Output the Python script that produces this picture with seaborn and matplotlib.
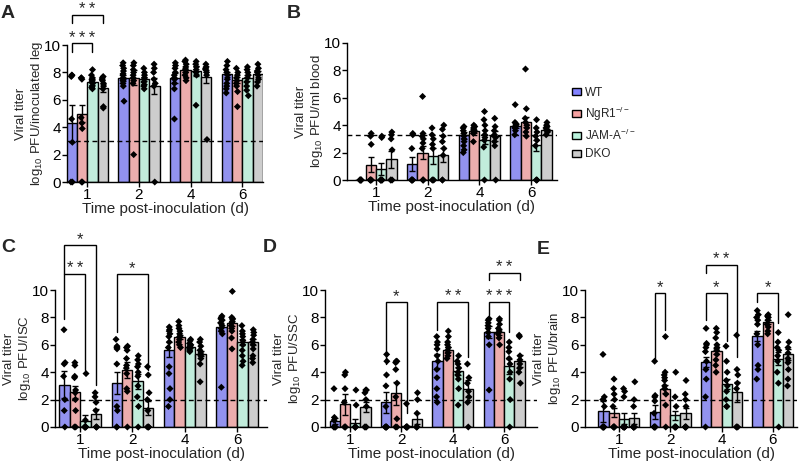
import numpy as np
import pandas as pd
import matplotlib
matplotlib.use("Agg")
import matplotlib.pyplot as plt
from matplotlib.patches import Patch
import seaborn as sns

# ── Data ──────────────────────────────────────────────────────────────────────
days = ["1", "2", "4", "6"]
genos = ["WT", "NgR1", "JAM-A", "DKO"]
geno_labels = ["WT", "NgR1$^{-/-}$", "JAM-A$^{-/-}$", "DKO"]
colors = ["#8282FF", "#F7A2A2", "#BAF3DD", "#CDCDCD"]

# rows = day, cols = genotype (WT, NgR1, JAM-A, DKO)
A_mean = [[4.3, 5.0, 7.3, 6.85], [7.6, 7.6, 7.5, 7.0], [7.6, 8.2, 8.1, 7.7], [7.85, 7.45, 7.6, 7.9]]
A_sem = [[1.35, 0.65, 0.2, 0.3], [0.2, 0.55, 0.15, 0.6], [0.35, 0.15, 0.35, 0.5], [0.2, 0.25, 0.2, 0.2]]
A_pts = [
    [7.8, 7.8, 7.7, 4.6, 2.9, 0, 0], [7.6, 7.6, 7.5, 4.7, 4.3, 3.9, 0, 0],
    [8.2, 7.8, 7.6, 7.5, 7.4, 7.3, 7.2, 7.0, 6.9, 6.8], [7.7, 7.6, 7.5, 7.4, 7.2, 7.0, 6.8, 5.5, 5.4],
    [8.7, 8.5, 8.3, 8.1, 7.9, 7.8, 7.6, 7.5, 7.4, 7.2, 7.0, 5.9], [8.7, 8.5, 8.2, 8.0, 7.8, 7.6, 7.4, 7.2, 2.0],
    [8.3, 8.0, 7.8, 7.6, 7.5, 7.3, 7.1, 7.0, 6.8], [8.6, 8.3, 8.0, 7.5, 7.2, 7.0, 0],
    [8.7, 8.5, 8.3, 8.0, 7.8, 7.6, 7.5, 7.2, 6.8, 4.6], [8.9, 8.8, 8.6, 8.4, 8.2, 8.0, 7.8, 7.6, 7.4],
    [8.8, 8.6, 8.4, 8.2, 8.0, 7.8, 5.6], [8.6, 8.4, 8.3, 8.2, 8.0, 7.8, 3.1],
    [8.8, 8.5, 8.2, 8.0, 7.8, 7.5, 7.2, 7.0, 6.8, 6.5], [8.3, 8.0, 7.8, 7.6, 7.4, 7.2, 7.0, 6.6, 5.5],
    [8.4, 8.2, 8.0, 7.8, 7.6, 7.3, 7.0, 6.7, 6.3], [8.6, 8.3, 8.1, 8.0, 7.8, 7.5, 7.3, 7.0],
]

B_mean = [[0, 1.1, 0.8, 1.5], [1.15, 2.0, 1.75, 1.85], [3.25, 3.55, 2.95, 3.2], [3.95, 4.25, 2.55, 3.65]]
B_sem = [[0, 0.55, 0.45, 0.6], [0.5, 0.5, 0.55, 0.5], [0.25, 0.1, 0.35, 0.35], [0.15, 0.35, 0.4, 0.1]]
B_pts = [
    [0, 0, 0, 0, 0, 0], [3.4, 3.2, 2.6, 0, 0, 0, 0, 0],
    [3.2, 3.1, 0, 0, 0, 0, 0, 0], [3.5, 3.3, 3.0, 2.2, 0, 0, 0],
    [3.4, 3.3, 2.3, 0, 0, 0, 0, 0], [6.1, 3.4, 3.2, 3.0, 2.7, 2.3, 0, 0, 0],
    [3.8, 3.3, 3.0, 2.6, 2.3, 0, 0, 0], [4.0, 3.7, 3.2, 2.8, 2.3, 1.8, 0, 0],
    [3.9, 3.8, 3.6, 3.4, 3.2, 3.0, 2.8, 2.5, 2.2, 2.0], [4.0, 3.9, 3.8, 3.7, 3.6, 3.5, 3.4, 2.8],
    [5.0, 4.4, 4.0, 3.6, 3.3, 3.1, 2.9, 2.4, 0], [4.5, 3.9, 3.6, 3.3, 3.1, 2.8, 2.5, 0],
    [5.5, 4.2, 4.1, 4.0, 3.9, 3.8, 3.6, 3.3], [8.1, 5.2, 4.5, 4.2, 4.0, 3.8, 3.5, 3.2],
    [4.4, 3.8, 3.5, 3.2, 2.9, 2.5, 0, 0, 0], [4.2, 4.0, 3.9, 3.8, 3.7, 3.6, 3.5, 3.3],
]

C_mean = [[3.1, 2.55, 0.45, 0.95], [3.2, 4.15, 3.35, 1.4], [5.65, 6.6, 5.85, 5.35], [7.3, 7.6, 6.2, 6.2]]
C_sem = [[1.0, 0.45, 0.4, 0.35], [0.8, 0.6, 0.55, 0.5], [0.55, 0.15, 0.1, 0.2], [0.3, 0.25, 0.25, 0.25]]
C_pts = [
    [7.1, 4.7, 4.6, 3.7, 2.0, 1.2, 0], [4.7, 4.5, 3.7, 3.6, 2.7, 2.5, 2.0, 1.2, 0, 0],
    [3.9, 0.5, 0, 0, 0, 0, 0], [2.5, 2.2, 1.8, 1.2, 0, 0, 0],
    [6.4, 5.9, 5.8, 5.7, 4.6, 1.5, 1.2, 0, 0], [5.9, 5.8, 5.6, 5.0, 4.5, 4.3, 3.9, 2.8, 2.6, 0],
    [5.2, 4.9, 4.6, 4.4, 4.0, 3.7, 3.0, 2.2, 1.5, 0], [4.4, 3.8, 2.5, 2.0, 1.2, 0, 0, 0],
    [7.3, 7.1, 7.0, 6.8, 6.6, 6.2, 5.8, 4.4, 3.9, 2.8, 2.0, 1.5], [7.7, 7.4, 7.2, 7.0, 6.8, 6.6, 6.4, 6.2, 6.0, 5.8],
    [6.4, 6.3, 6.1, 6.0, 5.9, 5.8, 5.7, 5.6, 5.5], [6.4, 6.2, 5.9, 5.6, 5.4, 5.2, 5.0, 4.6, 3.3],
    [8.1, 8.0, 7.9, 7.8, 7.6, 7.4, 7.2, 7.0, 6.8, 2.9], [9.9, 8.0, 7.9, 7.7, 7.6, 7.4, 7.2, 7.0, 6.5, 5.7],
    [7.4, 7.0, 6.8, 6.6, 6.3, 6.0, 5.6, 5.2, 4.8, 4.5], [7.1, 6.9, 6.7, 6.4, 6.2, 6.0, 5.7, 5.2, 5.0, 4.7],
]

D_mean = [[0.45, 1.65, 0.3, 1.45], [1.8, 2.45, 0.05, 0.6], [4.8, 5.65, 4.1, 2.8], [6.95, 6.95, 4.45, 4.8]]
D_sem = [[0.2, 0.75, 0.3, 0.35], [0.75, 0.85, 0.05, 0.4], [0.5, 0.2, 0.3, 0.6], [0.45, 0.2, 0.55, 0.45]]
D_pts = [
    [2.8, 0.7, 0.5, 0, 0, 0, 0], [4.0, 3.8, 2.8, 1.8, 0, 0, 0],
    [2.7, 1.6, 0, 0, 0, 0, 0], [2.7, 2.7, 2.5, 2.0, 1.5, 0, 0, 0],
    [5.3, 4.8, 3.8, 3.0, 1.5, 0, 0, 0, 0, 0], [4.8, 4.8, 4.7, 4.2, 3.2, 2.2, 0.6, 0, 0],
    [1.7, 0, 0, 0, 0, 0, 0], [2.5, 2.0, 1.0, 0, 0, 0],
    [6.6, 6.2, 6.0, 5.7, 5.2, 4.8, 4.2, 3.6, 2.8, 2.2, 1.8], [7.0, 6.6, 6.2, 6.0, 5.8, 5.6, 5.4, 5.2, 5.0],
    [5.2, 4.8, 4.6, 4.3, 4.0, 3.8, 3.5, 2.8, 1.6], [4.6, 3.6, 3.2, 2.6, 2.2, 1.8, 0],
    [7.9, 7.8, 7.6, 7.4, 7.2, 6.9, 6.6, 6.0, 2.7], [7.9, 7.8, 7.5, 7.2, 7.0, 6.8, 6.5, 6.0],
    [6.2, 5.8, 5.5, 5.0, 4.6, 4.0, 3.5, 2.0, 0], [6.7, 6.6, 5.2, 4.9, 4.6, 4.3, 4.0, 3.2],
]

E_mean = [[1.15, 1.05, 0.6, 0.65], [1.1, 2.8, 0.85, 1.0], [4.75, 5.55, 3.15, 2.55], [6.65, 7.65, 5.0, 5.3]]
E_sem = [[0.75, 0.35, 0.4, 0.4], [0.5, 0.3, 0.35, 0.4], [0.35, 0.25, 0.35, 0.75], [0.35, 0.15, 0.5, 0.4]]
E_pts = [
    [5.3, 2.2, 2.0, 1.5, 0, 0, 0, 0, 0, 0], [3.5, 2.8, 2.4, 2.0, 1.5, 0, 0, 0, 0, 0],
    [2.8, 2.6, 2.2, 0, 0, 0, 0, 0, 0], [3.3, 2.0, 1.5, 0, 0, 0, 0, 0, 0],
    [4.8, 2.3, 2.2, 1.9, 1.0, 0, 0, 0, 0, 0], [6.6, 4.0, 3.8, 3.6, 3.4, 3.0, 2.8, 2.4, 1.6, 0],
    [4.0, 2.2, 1.5, 0, 0, 0, 0, 0], [3.4, 2.4, 2.0, 1.5, 0, 0, 0, 0, 0],
    [7.2, 6.1, 6.0, 5.8, 5.5, 4.8, 4.2, 3.5, 2.2, 0], [7.2, 6.9, 6.5, 6.0, 5.8, 5.6, 5.3, 4.9, 4.5, 4.0],
    [5.9, 4.8, 4.0, 3.4, 3.0, 2.6, 2.0, 1.5, 1.5], [6.7, 4.2, 3.8, 3.2, 2.8, 0, 0, 0],
    [8.5, 8.2, 8.0, 7.8, 7.5, 6.8, 6.0, 4.5, 4.2, 3.5], [8.2, 8.1, 8.0, 7.8, 7.5, 7.3, 7.0, 6.8],
    [6.9, 6.2, 5.8, 5.6, 5.2, 4.8, 4.0, 3.2, 0], [8.2, 6.2, 5.8, 5.4, 5.0, 4.7, 4.2, 3.5, 3.0],
]

# limits of detection
limits = {"A": 3.0, "B": 3.3, "C": 2.0, "D": 2.0, "E": 2.0}

# significance brackets: (day index, geno a, geno b, top, leg a end, leg b end, label)
A_sig = [(0, 0, 2, 10.15, 9.5, 9.5, "***"), (0, 0, 3, 12.2, 11.6, 11.6, "**")]
C_sig = [(0, 0, 2, 11.2, 7.9, 4.15, "**"), (0, 0, 3, 13.3, 11.2, 3.05, "*"),
         (1, 0, 3, 11.2, 6.95, 4.15, "*")]
D_sig = [(1, 0, 2, 9.15, 4.6, 1.0, "*"), (2, 0, 3, 9.15, 7.1, 5.1, "**"),
         (3, 0, 2, 9.15, 8.2, 6.9, "***"), (3, 0, 3, 11.25, 10.7, 10.7, "**")]
E_sig = [(1, 0, 1, 9.8, 5.0, 7.1, "*"), (2, 0, 2, 9.8, 7.8, 6.3, "*"),
         (2, 0, 3, 11.85, 11.25, 5.1, "**"), (3, 0, 2, 9.8, 9.1, 7.6, "*")]

# ── Style ─────────────────────────────────────────────────────────────────────
sns.set_style("ticks")
plt.rcParams["font.family"] = ["Liberation Sans", "DejaVu Sans"]
plt.rcParams["mathtext.default"] = "regular"
plt.rcParams.update({
    "axes.linewidth": 1.0,
    "xtick.major.width": 1.0, "ytick.major.width": 1.0,
    "xtick.major.size": 3.5, "ytick.major.size": 3.5,
    "xtick.color": "black", "ytick.color": "black",
    "axes.edgecolor": "black",
})
np.random.seed(3)

FS = 11        # ticks and x label
YFS = 9.5      # two-line y label
W, H = 800, 466
fig = plt.figure(figsize=(W / 100, H / 100), dpi=100)


def rect(left, right, top, bottom):
    return [left / W, 1 - bottom / H, (right - left) / W, (bottom - top) / H]


def panel(box, xlim, mean, sem, pts, limit, sig, ylabel):
    ax = fig.add_axes(box)
    summ = pd.DataFrame({
        "day": np.repeat(days, 4),
        "geno": genos * 4,
        "mean": np.ravel(mean),
    })
    long = pd.DataFrame(
        [(days[k // 4], genos[k % 4], v) for k, grp in enumerate(pts) for v in grp],
        columns=["day", "geno", "val"],
    )
    sns.barplot(data=summ, x="day", y="mean", hue="geno", order=days, hue_order=genos,
                palette=colors, errorbar=None, edgecolor="black", linewidth=1,
                width=0.8, legend=False, ax=ax, zorder=1)

    # bar centres, taken from the drawn bars
    centers = np.zeros((4, 4))
    for g, cont in enumerate(ax.containers):
        for d, bar in enumerate(cont):
            centers[d, g] = bar.get_x() + bar.get_width() / 2

    ax.errorbar(centers.ravel(), np.ravel(mean), yerr=np.ravel(sem), fmt="none",
                ecolor="black", elinewidth=1, capsize=2.5, capthick=1, zorder=3)
    ax.axhline(limit, color="black", lw=1, ls=(0, (3.5, 2.5)), zorder=2)

    sns.stripplot(data=long, x="day", y="val", hue="geno", order=days, hue_order=genos,
                  palette={g: "black" for g in genos}, dodge=True, jitter=0.07,
                  marker="D", size=3.6, linewidth=0, legend=False, ax=ax,
                  zorder=4, clip_on=False)

    for d, a, b, top, ya, yb, lab in sig:
        xa, xb = centers[d, a], centers[d, b]
        ax.plot([xa, xa, xb, xb], [ya, top, top, yb], color="black", lw=1,
                clip_on=False, solid_joinstyle="miter")
        ax.annotate("\u2009".join(lab), xy=((xa + xb) / 2, top), xytext=(0, 0.3),
                    textcoords="offset points", ha="center", va="baseline",
                    fontsize=12, annotation_clip=False)

    ax.set_xlim(*xlim)
    ax.set_ylim(0, 10)
    ax.set_yticks(range(0, 11, 2))
    ax.set_xticks(range(4))
    ax.set_xticklabels(days)
    ax.tick_params(labelsize=FS, pad=0.8)
    ax.set_ylabel(ylabel, fontsize=YFS, labelpad=-0.5, linespacing=1.15)
    ax.set_xlabel("Time post-inoculation (d)", fontsize=FS, labelpad=0)
    sns.despine(ax=ax)
    return ax


panel(rect(67, 263, 45, 182), (-0.39, 3.4), A_mean, A_sem, A_pts, limits["A"], A_sig,
      "Viral titer\nlog$_{10}$ PFU/inoculated leg")
panel(rect(347, 557, 43, 180), (-0.56, 3.5), B_mean, B_sem, B_pts, limits["B"], [],
      "Viral titer\nlog$_{10}$ PFU/ml blood")
panel(rect(55, 267, 290, 427), (-0.48, 3.57), C_mean, C_sem, C_pts, limits["C"], C_sig,
      "Viral titer\nlog$_{10}$ PFU/ISC")
panel(rect(325, 537, 290, 427), (-0.49, 3.64), D_mean, D_sem, D_pts, limits["D"], D_sig,
      "Viral titer\nlog$_{10}$ PFU/SSC")
panel(rect(585, 797, 290, 427), (-0.66, 3.47), E_mean, E_sem, E_pts, limits["E"], E_sig,
      "Viral titer\nlog$_{10}$ PFU/brain")

# panel letters
for lab, px, py in [("A", 1, 14), ("B", 287, 14), ("C", 1, 247), ("D", 263, 247), ("E", 537, 249)]:
    fig.text(px / W, 1 - py / H, lab, fontsize=14, fontweight="bold", ha="left", va="center")

handles = [Patch(facecolor=c, edgecolor="black", linewidth=1) for c in colors]
fig.legend(handles, geno_labels, loc="upper left", bbox_to_anchor=(572 / W, 1 - 87 / H),
           frameon=False, fontsize=8.5, handlelength=0.8, handleheight=0.55,
           handletextpad=0.3, labelspacing=0.45, borderpad=0, borderaxespad=0)

fig.savefig("out.png", dpi=100)
